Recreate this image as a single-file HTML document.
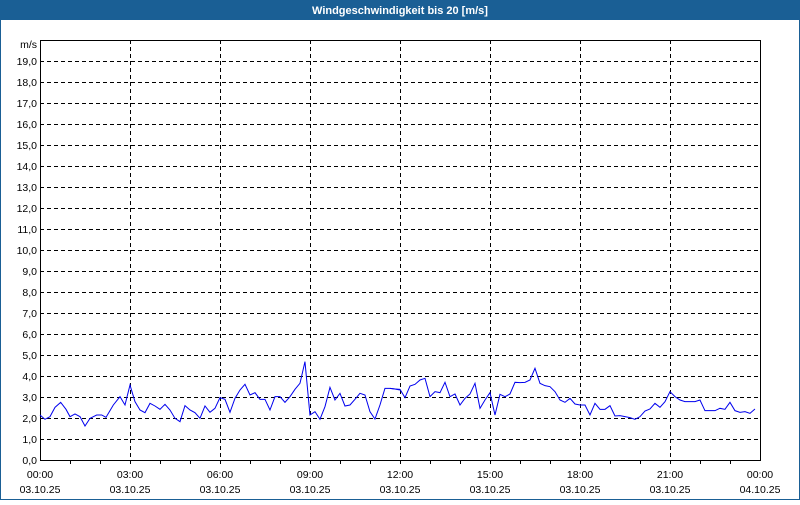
<!DOCTYPE html>
<html><head><meta charset="utf-8"><style>
body{margin:0;width:800px;height:500px;overflow:hidden;background:#fff}
</style></head><body>
<svg width="800" height="500" xmlns="http://www.w3.org/2000/svg" font-family="Liberation Sans, sans-serif" font-size="10.5">
<rect x="0.5" y="0.5" width="799" height="499" fill="#fff" stroke="#1a5f95"/>
<rect x="0" y="0" width="800" height="20" fill="#1a5f95"/>
<text x="400" y="14" fill="#fff" text-anchor="middle" font-weight="bold" font-size="11">Windgeschwindigkeit bis 20 [m/s]</text>
<g stroke="#000" stroke-dasharray="4,3" stroke-width="1">
<line x1="40" x2="760" y1="439.5" y2="439.5"/><line x1="40" x2="760" y1="418.5" y2="418.5"/><line x1="40" x2="760" y1="397.5" y2="397.5"/><line x1="40" x2="760" y1="376.5" y2="376.5"/><line x1="40" x2="760" y1="355.5" y2="355.5"/><line x1="40" x2="760" y1="334.5" y2="334.5"/><line x1="40" x2="760" y1="313.5" y2="313.5"/><line x1="40" x2="760" y1="292.5" y2="292.5"/><line x1="40" x2="760" y1="271.5" y2="271.5"/><line x1="40" x2="760" y1="250.5" y2="250.5"/><line x1="40" x2="760" y1="229.5" y2="229.5"/><line x1="40" x2="760" y1="208.5" y2="208.5"/><line x1="40" x2="760" y1="187.5" y2="187.5"/><line x1="40" x2="760" y1="166.5" y2="166.5"/><line x1="40" x2="760" y1="145.5" y2="145.5"/><line x1="40" x2="760" y1="124.5" y2="124.5"/><line x1="40" x2="760" y1="103.5" y2="103.5"/><line x1="40" x2="760" y1="82.5" y2="82.5"/><line x1="40" x2="760" y1="61.5" y2="61.5"/>
<line y1="40" y2="460" x1="130.5" x2="130.5"/><line y1="40" y2="460" x1="220.5" x2="220.5"/><line y1="40" y2="460" x1="310.5" x2="310.5"/><line y1="40" y2="460" x1="400.5" x2="400.5"/><line y1="40" y2="460" x1="490.5" x2="490.5"/><line y1="40" y2="460" x1="580.5" x2="580.5"/><line y1="40" y2="460" x1="670.5" x2="670.5"/>
</g>
<rect x="40.5" y="40.5" width="720" height="420" fill="none" stroke="#000"/>
<g stroke="#000">
<path d="M70.5 460v4M100.5 460v4M130.5 460v4M160.5 460v4M190.5 460v4M220.5 460v4M250.5 460v4M280.5 460v4M310.5 460v4M340.5 460v4M370.5 460v4M400.5 460v4M430.5 460v4M460.5 460v4M490.5 460v4M520.5 460v4M550.5 460v4M580.5 460v4M610.5 460v4M640.5 460v4M670.5 460v4M700.5 460v4M730.5 460v4"/>
</g>
<g text-anchor="end" fill="#000">
<text x="37" y="48">m/s</text>
<text x="37" y="65">19,0</text><text x="37" y="86">18,0</text><text x="37" y="107">17,0</text><text x="37" y="128">16,0</text><text x="37" y="149">15,0</text><text x="37" y="170">14,0</text><text x="37" y="191">13,0</text><text x="37" y="212">12,0</text><text x="37" y="233">11,0</text><text x="37" y="254">10,0</text><text x="37" y="275">9,0</text><text x="37" y="296">8,0</text><text x="37" y="317">7,0</text><text x="37" y="338">6,0</text><text x="37" y="359">5,0</text><text x="37" y="380">4,0</text><text x="37" y="401">3,0</text><text x="37" y="422">2,0</text><text x="37" y="443">1,0</text><text x="37" y="464">0,0</text>
</g>
<g text-anchor="middle" fill="#000">
<text x="40" y="478">00:00</text><text x="130" y="478">03:00</text><text x="220" y="478">06:00</text><text x="310" y="478">09:00</text><text x="400" y="478">12:00</text><text x="490" y="478">15:00</text><text x="580" y="478">18:00</text><text x="670" y="478">21:00</text><text x="760" y="478">00:00</text>
<text x="40" y="493">03.10.25</text><text x="130" y="493">03.10.25</text><text x="220" y="493">03.10.25</text><text x="310" y="493">03.10.25</text><text x="400" y="493">03.10.25</text><text x="490" y="493">03.10.25</text><text x="580" y="493">03.10.25</text><text x="670" y="493">03.10.25</text><text x="760" y="493">04.10.25</text>
</g>
<g fill="none" stroke="#0000ee" stroke-width="1">
<polyline transform="translate(30,350) scale(0.3333)" vector-effect="non-scaling-stroke" points="30,195 45,208 60,200 75,172 92,157 108,178 120,200 135,192 150,200 165,228 180,205 200,195 215,195 228,202 250,165 270,140 285,165 300,105 315,155 330,180 345,188 360,160 375,168 390,178 405,163 420,180 435,205 450,215 465,167 480,180 495,188 510,205 525,168 540,187 555,175 570,143 585,148 600,187 615,145 630,120 645,103 660,135 675,128 690,148 705,148 720,180 735,140 750,140 765,157 780,140 795,118 810,100 825,35 840,195 855,185 870,208 885,170 900,112 915,150 930,130 945,168 960,165 975,148 990,130 1005,135 1020,185 1035,207 1050,165 1065,115 1080,115 1095,117 1110,120"/>
<polyline transform="translate(390,350) scale(0.3333)" vector-effect="non-scaling-stroke" points="0,115 15,117 30,118 45,143 60,108 75,103 90,90 105,85 120,140 135,125 150,128 165,97 180,140 195,132 210,165 225,145 240,132 255,100 270,175 285,150 300,128 315,195 330,133 345,140 360,132 375,97 390,98 405,97 420,90 435,55 450,100 465,107 480,110 495,125 510,150 525,157 540,145 555,162 570,165 585,165 600,195 615,160 630,178 645,178 660,167 675,198 690,197 705,200 720,203 735,208 750,200 765,183 780,177 795,160 810,172 825,155 840,125 855,140 870,150 885,155 900,155 915,155 930,150 945,182 960,182 975,182 990,175 1005,178 1020,157 1035,182 1050,187 1065,185 1080,190 1095,177"/>
</g>
</svg>
</body></html>
